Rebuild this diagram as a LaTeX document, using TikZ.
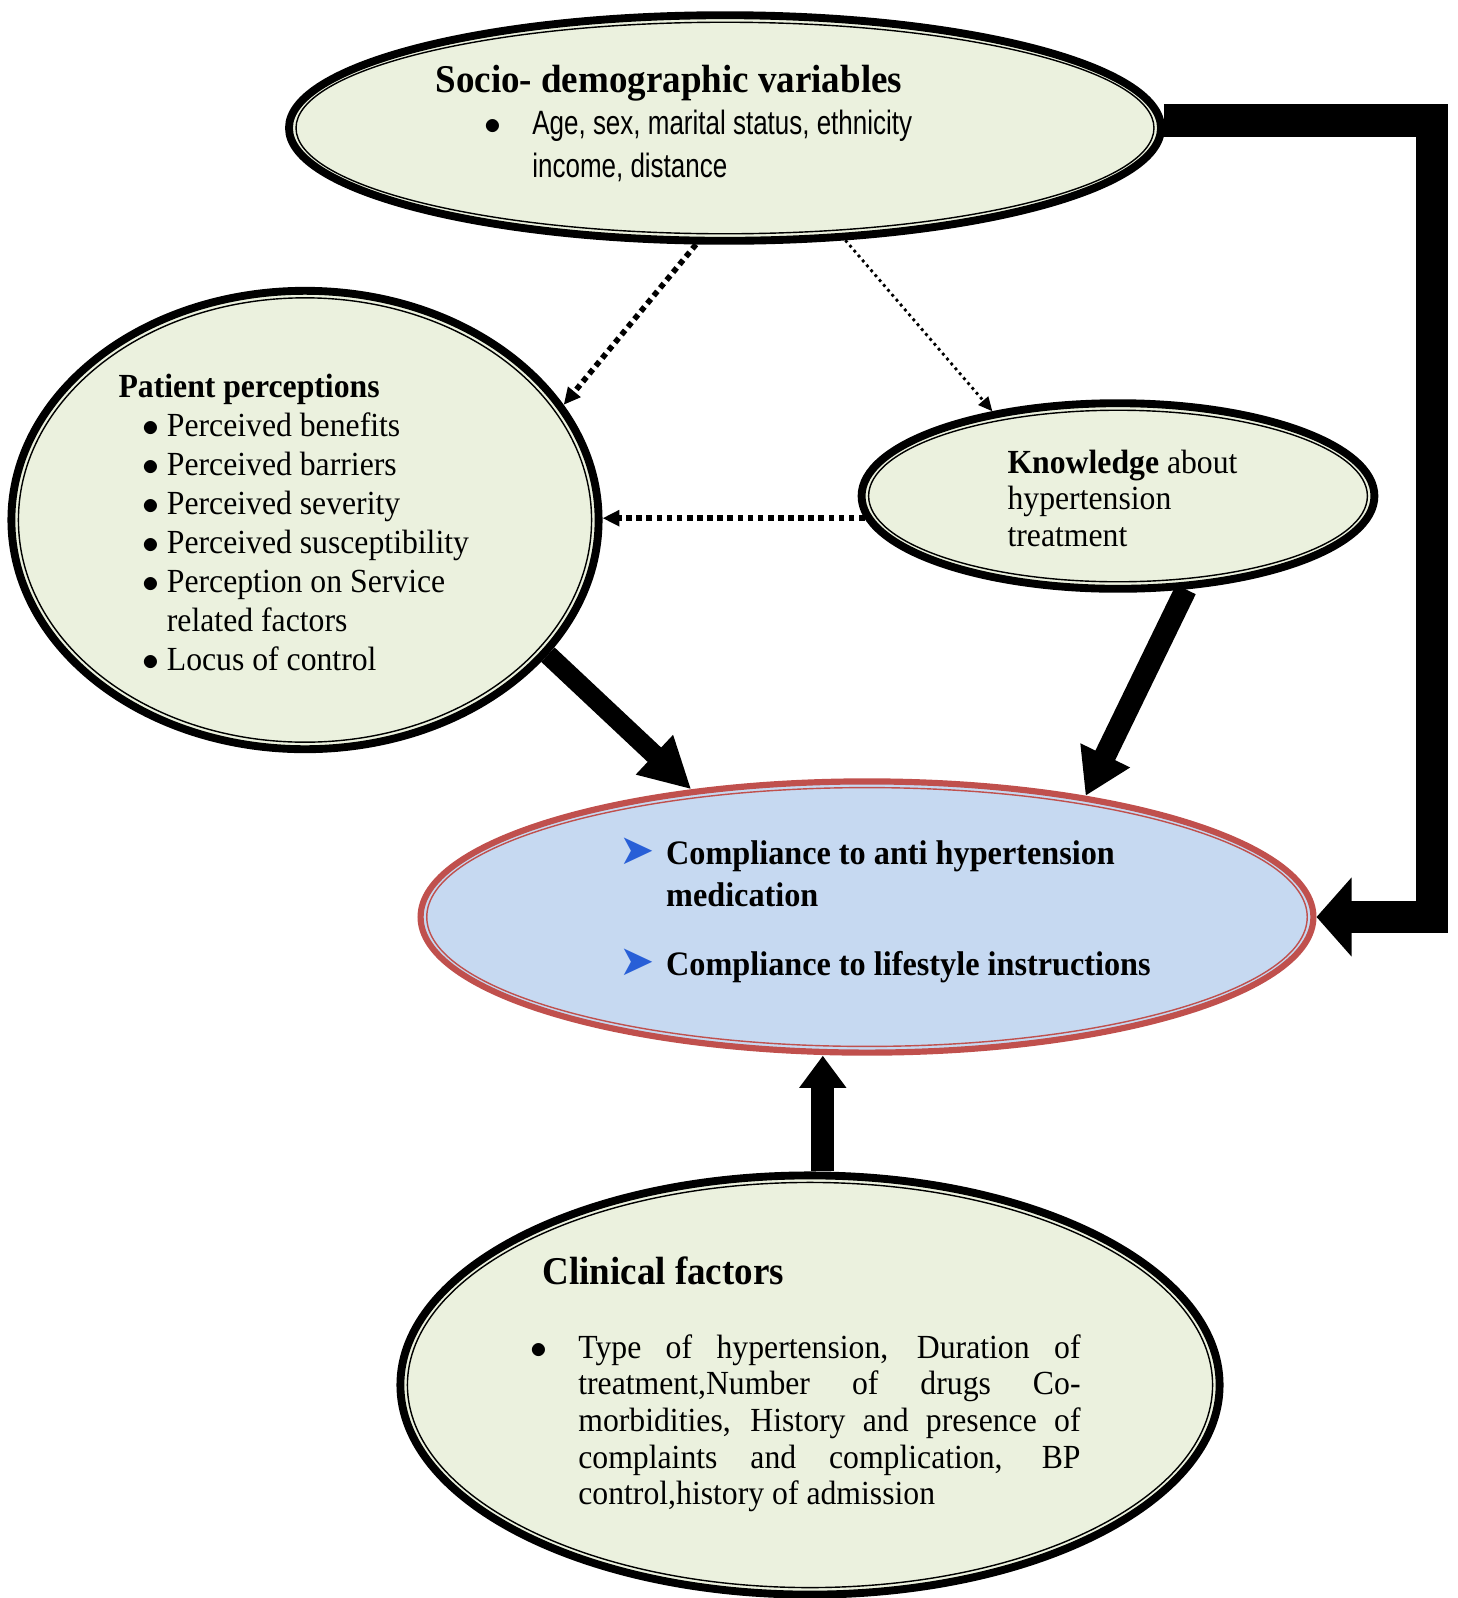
\documentclass[tikz,border=0pt]{standalone}
\usepackage{fontspec}
\setmainfont{Liberation Serif}[FakeStretch=0.94]
\newfontfamily\narrowsans{Liberation Sans}[FakeStretch=0.77]
\newfontfamily\dingfont{DejaVu Sans}
\usetikzlibrary{shapes.geometric,arrows.meta,calc}

\definecolor{leaf}{RGB}{235,241,222}
\definecolor{sky}{RGB}{198,217,241}
\definecolor{brick}{RGB}{192,80,77}
\definecolor{chevron}{RGB}{40,95,215}

\newcommand{\chev}{{\dingfont\fontsize{15}{0}\selectfont\color{chevron}\char"27A4}}
\newcommand{\dotb}{$\bullet$}

\begin{document}
\begin{tikzpicture}[x=0.125mm, y=-0.125mm,
    bubble/.style={ellipse, draw=black, line width=2.8pt, fill=leaf, inner sep=0pt},
    target/.style={ellipse, draw=brick, line width=2.2pt, fill=sky, inner sep=0pt},
    txt/.style={anchor=base west, inner sep=0pt}]
  \useasboundingbox (0,0) rectangle (1458,1598);

  % the five factors
  \node[bubble, minimum width=109mm, minimum height=28.2mm] (socio) at (725,128) {};
  \node[bubble, minimum width=73.4mm, minimum height=57.3mm] (patient) at (305,520) {};
  \node[bubble, minimum width=64.1mm, minimum height=23.2mm] (know) at (1118,496) {};
  \node[target, minimum width=111.6mm, minimum height=33.9mm] (comply) at (867,917) {};
  \node[bubble, minimum width=102.4mm, minimum height=52.4mm] (clinic) at (810,1385) {};

  % thin inner rings
  \foreach \nd in {socio,patient,know,clinic}
    \draw[line width=0.5pt] let \p1=(\nd.center), \p2=(\nd.east), \p3=(\nd.north) in
      (\p1) ellipse [x radius=\x2-\x1-3.9pt, y radius=\y3-\y1-3.9pt];
  \draw[brick, line width=0.5pt] let \p1=(comply.center), \p2=(comply.east), \p3=(comply.north) in
    (\p1) ellipse [x radius=\x2-\x1-3.3pt, y radius=\y3-\y1-3.3pt];

  % texts
  \node[txt, font=\fontsize{14}{16}\selectfont\bfseries] (sociohead) at (435,92) {Socio- demographic variables};
  \node[txt, font=\narrowsans\fontsize{12}{15.6}\selectfont] (sociolist) at (484,134)
    {\begin{tabular}[t]{@{}p{17pt}@{}l@{}}
      \dotb & Age, sex, marital status, ethnicity\\
      & income, distance
    \end{tabular}};

  \node[txt, font=\fontsize{12}{13.9}\selectfont] (patlist) at (118,397)
    {\begin{tabular}[t]{@{\hspace{8.6pt}}l@{\hspace{2.6pt}}l@{}}
      \multicolumn{2}{@{}l@{}}{\textbf{Patient perceptions}}\\
      \dotb & Perceived benefits\\
      \dotb & Perceived barriers\\
      \dotb & Perceived severity\\
      \dotb & Perceived susceptibility\\
      \dotb & Perception on Service\\
      & related factors\\
      \dotb & Locus of control
    \end{tabular}};

  \node[txt, font=\fontsize{12}{13.05}\selectfont] (knowtext) at (1007,473)
    {\begin{tabular}[t]{@{}l@{}}
      \textbf{Knowledge} about\\
      hypertension\\
      treatment
    \end{tabular}};

  \node[txt, font=\fontsize{12.2}{15.2}\selectfont\bfseries] (complytext) at (619,864)
    {\begin{tabular}[t]{@{}l@{\hspace{4pt}}l@{}}
      \chev & Compliance to anti hypertension\\
      & medication\\[9.3pt]
      \chev & Compliance to lifestyle instructions
    \end{tabular}};

  \node[txt, font=\fontsize{14}{16}\selectfont\bfseries] (clinhead) at (542,1284) {Clinical factors};
  \node[txt, font=\fontsize{12}{13.05}\selectfont] (clinlist) at (530,1358)
    {\begin{tabular}[t]{@{}p{17pt}@{}p{178.6pt}@{}}
      \dotb & Type of hypertension, Duration of\linebreak
      treatment,Number of drugs Co-\linebreak
      morbidities, History and presence of\linebreak
      complaints and complication, BP\linebreak
      control,history of admission
    \end{tabular}};

  % dotted links
  \draw[line width=2pt, dash pattern=on 2pt off 1.6pt, -{Triangle[length=6pt,width=5.5pt]}]
    (socio.256) -- (patient.24);
  \draw[line width=1pt, dash pattern=on 1pt off 1.3pt, -{Triangle[length=5pt,width=4.5pt]}]
    (socio.317) -- (know.146);
  \draw[line width=2pt, dash pattern=on 2pt off 1.6pt, -{Triangle[length=6pt,width=5.5pt]}]
    (know.185) -- (know.185 -| patient.east);

  % heavy arrows into compliance
  \draw[line width=7pt, -{Triangle[length=18pt,width=18pt]}] (patient.331) -- (comply.144);
  \draw[line width=7.8pt, -{Triangle[length=16pt,width=18.5pt]}] (know.306) -- (comply.29);
  \draw[line width=8.2pt, -{Triangle[length=11.4pt,width=16pt]}]
    ([xshift=1.6mm]clinic.north) -- ([xshift=1.6mm]clinic.north |- comply.south);
  \coordinate (turn) at (1432,917);
  \draw[line width=11.7pt, -{Triangle[length=12.5pt,width=27.5pt]}] (socio.1.5) -| (turn) -- (comply.east);
\end{tikzpicture}
\end{document}
